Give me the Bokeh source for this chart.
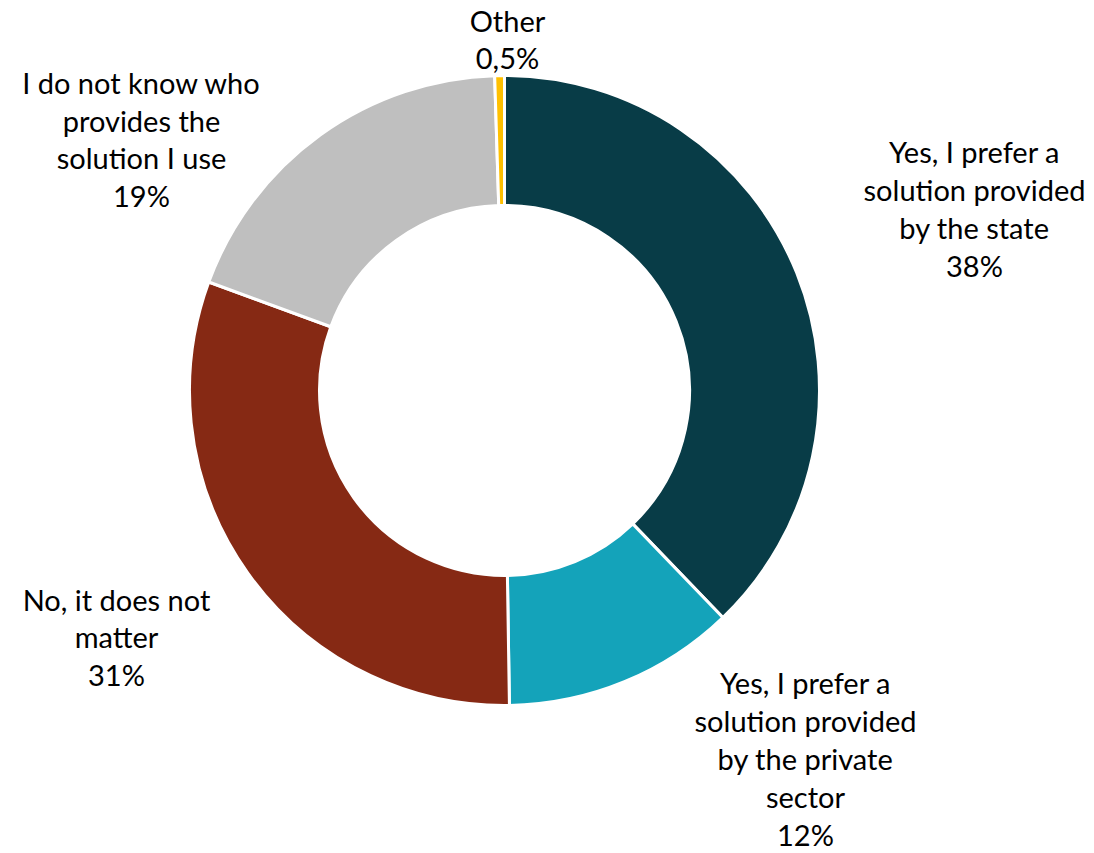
import numpy as np
from bokeh.plotting import figure
from bokeh.models import ColumnDataSource, Range1d
from bokeh.core.properties import value
from bokeh.embed import file_html
from bokeh.resources import INLINE

# ---- data ----
categories = [
    "Yes, I prefer a\nsolution provided\nby the state",
    "Yes, I prefer a\nsolution provided\nby the private\nsector",
    "No, it does not\nmatter",
    "I do not know who\nprovides the\nsolution I use",
    "Other",
]
values = [38, 12, 31, 19, 0.5]
value_labels = ["38%", "12%", "31%", "19%", "0,5%"]
colors = ["#083C47", "#14A3BA", "#862914", "#BFBFBF", "#FFC000"]

# ---- layout ----
W, H = 1094, 853
cx, cy = 504, 853 - 390
r_out, r_in = 315, 185
label_pos = [(974, 853 - 208), (805, 853 - 758), (116, 853 - 636.5),
             (141, 853 - 138.5), (507, 853 - 38.5)]

vals = np.array(values, dtype=float)
frac = vals / vals.sum()
ends_cum = np.cumsum(frac)
starts_cum = ends_cum - frac
start_angle = np.pi / 2 - 2 * np.pi * starts_cum
end_angle = np.pi / 2 - 2 * np.pi * ends_cum

src = ColumnDataSource(dict(start=start_angle, end=end_angle, color=colors))

p = figure(width=W, height=H, output_backend="svg", toolbar_location=None,
           x_range=Range1d(0, W), y_range=Range1d(853 - H, 853),
           min_border=0)
p.axis.visible = False
p.grid.visible = False
p.outline_line_color = None
p.background_fill_color = "white"

p.annular_wedge(x=cx, y=cy, inner_radius=r_in, outer_radius=r_out,
                start_angle="start", end_angle="end", direction="clock",
                fill_color="color", line_color="white", line_width=3, source=src)

texts = [c + "\n" + v for c, v in zip(categories, value_labels)]
lsrc = ColumnDataSource(dict(x=[q[0] for q in label_pos], y=[q[1] for q in label_pos], t=texts))
p.text(x="x", y="y", text="t", source=lsrc, text_align="center", text_baseline="middle",
       text_font=value("Lato"), text_font_size="29px", text_color="#000000",
       text_line_height=1.08)

open("out.html", "w").write(file_html(p, INLINE))
